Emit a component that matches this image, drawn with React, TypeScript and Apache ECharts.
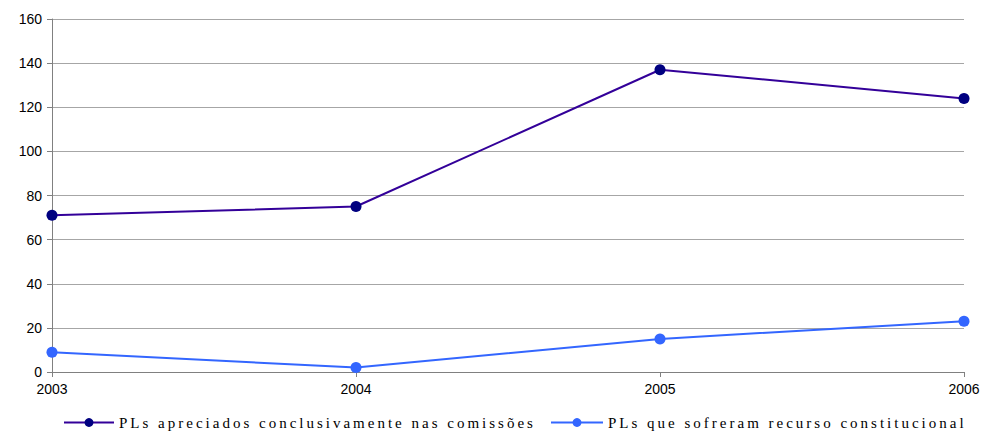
import React, { useEffect, useRef } from "react";
import * as echarts from "echarts";

const years = ["2003", "2004", "2005", "2006"];
const apreciados = [71, 75, 137, 124];
const recurso = [9, 2, 15, 23];
const seriesNames = [
  "PLs apreciados conclusivamente nas comissões",
  "PLs que sofreram recurso constitucional",
];

export default function App() {
  const ref = useRef<HTMLDivElement>(null);
  useEffect(() => {
    if (!ref.current) return;
    const chart = echarts.init(ref.current, null, { renderer: "svg" });
    const legendText = {
      fontFamily: "'Liberation Serif', 'Times New Roman', serif",
      fontSize: 15,
      color: "#000",
    };
    chart.setOption({
      animation: false,
      backgroundColor: "#fff",
      grid: { left: 52, right: 21, top: 19, bottom: 60, containLabel: false },
      legend: [
        {
          data: [seriesNames[0]],
          left: 63,
          top: 415,
          padding: 0,
          itemWidth: 50,
          itemHeight: 11,
          itemGap: 4,
          textStyle: legendText,
        },
        {
          data: [seriesNames[1]],
          left: 550,
          top: 415,
          padding: 0,
          itemWidth: 52,
          itemHeight: 11,
          itemGap: 4,
          textStyle: legendText,
        },
      ],
      xAxis: {
        type: "category",
        data: years,
        boundaryGap: false,
        axisLine: { show: true, lineStyle: { color: "#808080", width: 1 } },
        axisTick: { show: true, length: 5, lineStyle: { color: "#808080" } },
        axisLabel: {
          margin: 10,
          fontFamily: "'Liberation Sans', Arial, sans-serif",
          fontSize: 14,
          color: "#000",
        },
        splitLine: { show: false },
      },
      yAxis: {
        type: "value",
        min: 0,
        max: 160,
        interval: 20,
        axisLine: { show: true, lineStyle: { color: "#808080", width: 1 } },
        axisTick: { show: true, length: 5, lineStyle: { color: "#808080" } },
        axisLabel: {
          margin: 10,
          fontFamily: "'Liberation Sans', Arial, sans-serif",
          fontSize: 14,
          color: "#000",
        },
        splitLine: { show: true, lineStyle: { color: "#a6a6a6", width: 1 } },
      },
      series: [
        {
          name: seriesNames[0],
          type: "line",
          data: apreciados,
          symbol: "circle",
          symbolSize: 11,
          lineStyle: { color: "#330099", width: 2 },
          itemStyle: { color: "#000080" },
        },
        {
          name: seriesNames[1],
          type: "line",
          data: recurso,
          symbol: "circle",
          symbolSize: 11,
          lineStyle: { color: "#3366FF", width: 2 },
          itemStyle: { color: "#3366FF" },
        },
      ],
    });
    return () => chart.dispose();
  }, []);
  return (
    <>
      <style>{"#root svg text[style*='Liberation Serif']{letter-spacing:3px}"}</style>
      <div
        ref={ref}
        style={{ position: "absolute", left: 0, top: 0, width: 985, height: 432 }}
      />
    </>
  );
}
